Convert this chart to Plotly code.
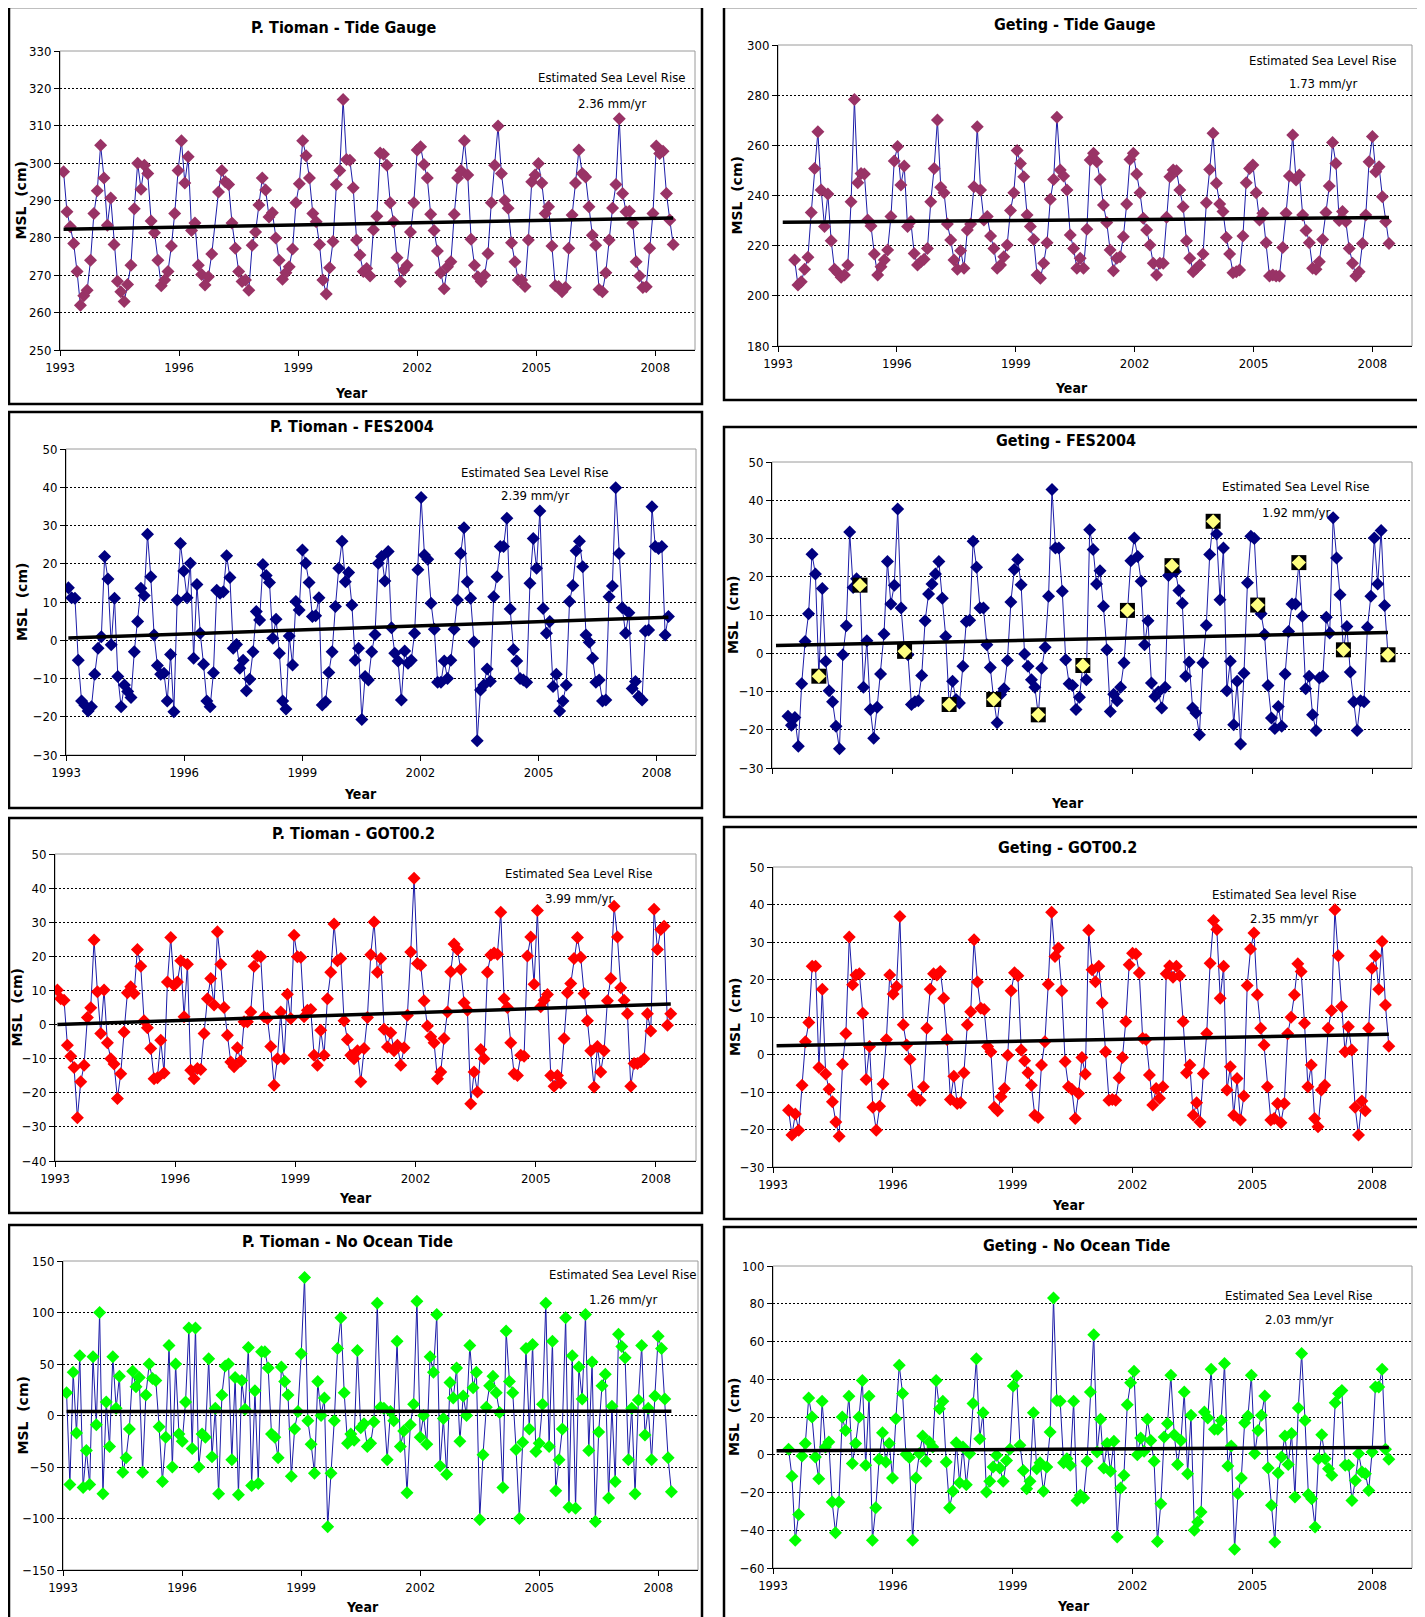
import plotly.graph_objects as go
import numpy as np

W, H = 1425, 1617
PAGE_OFFSET = 8  # default body margin of the html page
FONT = "Liberation Sans Narrow, Arial Narrow, DejaVu Sans Condensed, sans-serif"

# ---------------- data ----------------
years_ticks = [1993, 1996, 1999, 2002, 2005, 2008]

pt_tide = [297.7, 287, 283, 278.5, 271, 262, 264.5, 266, 274, 286.5, 292.6, 304.8, 296, 283.4, 290.7, 278.2,
           268.4, 265.6, 263, 267.5, 272.7, 287.8, 300, 293, 299.4, 297.2, 284.5, 281.4, 274, 267.2, 268.7, 271,
           277.8, 286.5, 298, 306, 294.7, 301.7, 282, 284, 272.7, 270.2, 267.4, 269.6, 275.7, None, 292.3, 298,
           295, 294.3, 284, 277.2, 271, 268.3, 268.7, 266, 278, 281.6, 288.8, 296, 292.8, 285.6, 286.7, 280, 274,
           268.9, 270.7, 272.3, 277, 289.4, 294.5, 306, 302, 296, 286.5, 284.3, 278.2, 268.7, 265, 272, 279,
           294.3, 298, 317, 301, 300.8, 293.4, 279.4, 275.4, 271, 271.8, 269.8, 282.2, 285.8, 302.7, 302.4, 299.4,
           289.4, 284.3, 274.7, 268.3, 271.4, 272.7, 281.6, 289.4, 303.5, 304.4, 299.6, 296, 286.3, 282, 276.5,
           270.7, 266.4, 272.3, 273.6, 286.3, 296, 298, 306, 296.8, 279.6, 272.7, 269.6, 268.3, 270, 275.8, 289.4,
           299.4, 309.9, 297.2, 290, 287.9, 278.7, 273.6, 268.7, 268.7, 267, 279.4, 295, 296.8, 299.9, 294.7,
           286.5, 288.3, 277.8, 267.2, 267, 265.6, 266.7, 277.2, 286.1, 294.7, 303.5, 297.2, 296.3, 288.3, 280.7,
           278, 266.2, 265.6, 270.7, 279.4, 288, 294.3, 311.9, 291.9, 287, 287.1, 283.9, 273.6, 269.8, 266.7,
           266.9, 277.2, 286.5, 304.6, 302.6, 303.2, 291.9, 284.8, 278.2]

pt_fes = [13.7, 11.1, 11, -5.2, -15.9, -17, -18.5, -17.4, -8.9, -2.1, 0.9, 21.9, 16, -1.2, 11, -9.5, -17.4, -11.7,
          -13.4, -15, -3, 4.9, 13.6, 11.7, 27.7, 16.6, 1.4, -6.6, -8.9, -8.6, -15.9, -3.7, -18.7, 10.5, 25.3, 18.1,
          11.1, 20.1, -4.7, 14.6, 1.8, -6.3, -15.9, -17.4, -8.5, 13.1, 12.3, 12.7, 22.1, 16.4, -2.1, -1.1, -7.3,
          -5.2, -13.2, -10.2, -3, 7.5, 5.3, 19.8, 16.9, 15.1, 0.5, 5.5, -3.4, -15.9, -18, 1.1, -6.5, 10.1, 7.9,
          23.6, 20.1, 15.1, 6.2, 6.4, 11.1, -16.9, -16.1, -8.4, -3, 8.8, 18.8, 25.9, 15.3, 17.7, 9.2, -5.2, -2.1,
          -20.7, -9.5, -10.4, -3, 1.5, 20.1, 21.9, 15.5, 23.2, 3.3, -3.4, -5.4, -15.6, -2.8, -6, -5.2, 1.8, 18.4,
          37.3, 22.3, 21.2, 9.7, 2.9, -11, -11, -5.4, -10, -5.2, 2.9, 10.5, 22.7, 29.4, 15.3, 11, -0.4, -26.3,
          -13, -11.7, -7.5, -10.7, 11.4, 16.6, 24.5, 24.5, 31.9, 8.2, -2.4, -5.4, -10, -10.4, -11, 14.9, 26.6,
          18.8, 33.8, 8.3, 1.8, 4.9, -12.1, -8.9, -18.5, -15.9, -11.7, 10.1, 14.3, 23.4, 25.9, 19.2, 1.4, -0.5,
          -4.7, -11, -10.4, -15.9, -15.6, 11.4, 14.2, 39.9, 22.7, 8.5, 1.8, 7.2, -12.6, -10.8, -14.7, -15.6, 2.4,
          2.7, 34.9, 24.5, 24, 24.5, 1.4, 6.2]

pt_got = [10.1, 7.6, 7.1, -6.1, -9.3, -12.6, -27.3, -16.8, -11.9, 2.1, 4.9, 24.8, 9.6, -2.6, 10.1, -5.3, -10, -11.6,
          -21.7, -14.4, -2.2, 9.3, 11.1, 9.1, 22, 17.1, 1.1, -0.9, -7, -15.9, -15.6, -4.6, -14.2, 12.5, 25.5, 11.5,
          12.5, 18.7, 2.3, 17.7, -13.4, -15.9, -12.9, -13.2, -2.6, 7.6, 13.5, 5.7, 27.2, 17.7, 5, -3.1, -11, -12.4,
          -6.8, -10.7, 0.8, 0.8, 3.7, 17.1, 20.1, 19.9, 2.3, 1.8, -6.4, -17.8, -10, 3.7, -10, 8.9, 1.8, 26.2, 19.9,
          19.7, 2.3, 4.2, 4.4, -9, -11.9, -1.7, -9, 7.6, 15.3, 29.5, 18.7, 19.4, 1.1, -4.4, -9, -10, -7.7, -16.8,
          -7, 2.1, 20.5, 30.1, 15.3, 19.4, -1.4, -6.6, -2.4, -7.7, -6.1, -11.9, -6.8, 2.7, 21.3, 42.9, 17.9, 17.4,
          7, -0.4, -3.6, -5.3, -15.9, -13.9, -4.1, 3.7, 15.5, 23.6, 22, 16.2, 6.4, 4.2, -23.2, -13.9, -19.8, -7.3,
          -10, 15.3, 20.4, 21, 20.6, 32.9, 7.6, 5, -5.3, -14.4, -14.9, -9, -9.3, 20.1, 25.7, 11.8, 33.4, 5.2, 7.1,
          8.8, -14.9, -18.1, -14.9, -17.1, -4.1, 9.3, 12, 19.4, 25.5, 19.7, 9.1, 1.1, -7.7, -18.3, -6.4, -13.9,
          -7.7, 7, 13.5, 34.7, 25.7, 10.8, 7.1, 3.2, -18.1, -11.4, -11.4, -10.9, -10, 3.2, -1.9, 33.8, 22, 27.9,
          28.8, -0.2, 3.2]

pt_not = [22, -67, 42, -17, 58, -70, -34, -67, 57, -9, 100, -76, 13, -30, 57, 7, 38, -55, -41, -13, 43, 28, 37,
          -55, 20, 50, 36, 34, -11, -64, -21, 68, -50, 50, -18, -25, 13, 85, -32, 85, -50, -18, -21, 55, -40, 7,
          -76, 20, 48, 50, -43, 37, -77, 34, 6, 66, -68, 24, -66, 62, 62, 46, -18, -21, -41, 47, 33, 20, -59, -13,
          4, 60, 134, -5, -28, -56, 33, 0, 17, -108, -56, -5, 65, 95, 22, -27, -18, -24, 63, -12, -8, -30, -27, -6,
          109, 8, 7, -43, 4, -5, 72, -30, -15, -75, -9, 11, 111, -21, 0, -28, 57, 42, 98, -49, -3, -57, 32, 17, 46,
          -25, 19, 0, 68, 27, 42, -101, -38, 8, 29, 38, 22, 3, -70, 82, 33, 22, -33, -100, -26, 65, -13, 69, -35,
          -27, 11, 109, -30, 72, -73, -43, -13, 95, -89, 58, -90, 47, 16, 98, -34, 52, -103, -16, 29, 40, -80, 9,
          -64, 79, 67, 56, -43, 7, -76, 15, 68, -19, 7, -43, 19, 77, 65, 16, -41, -74]

ge_tide = [214.3, 204.3, 205.6, 210.6, 215.4, 233.2, 250.8, 265.4, 242.2, 227.6, 240.6, 222, 210.6, 209.2, 207.4,
           208.3, 212.3, 237.5, 278.3, 245.1, 248.8, 248.6, 230.2, 227.8, 216.7, 208.3, 211.6, 214.3, 218.3, 231.6,
           253.8, 259.5, 244.2, 251.8, 227.6, 229.6, 216.9, 212.3, 213.6, 214.6, 218.9, 237.5, 250.8, 270.1, 243.3,
           241.1, 228.6, 222.3, 214.3, 210.6, 218, 211, 226.2, 228.6, 243.5, 267.4, 242.2, 230.2, 231.6, 223.9,
           218.9, 211, 212.3, 215.6, 220.3, 234, 241.1, 257.9, 252.8, 247.5, 232.2, 227.6, 222.5, 208.3, 207, 213,
           221.2, 238.5, 246.4, 271.2, 250.2, 247.8, 242.2, 224.3, 218.9, 211, 215, 211, 226.5, 254.2, 256.8, 253.5,
           246.4, 236.2, 229.2, 218.3, 210, 215, 215.6, 223.6, 236.6, 254.4, 256.8, 248.6, 241.1, 230.9, 226.2,
           220.3, 213, 208.3, 213, 213, 231.3, 247.5, 250.2, 249.9, 242.2, 235.5, 222, 215, 209.6, 211, 212.3,
           216.7, 237.1, 250.4, 264.8, 244.9, 236.6, 233.6, 223.3, 216.7, 209.2, 209.6, 210.3, 223.9, 245.1, 250.8,
           252.2, 241.1, 230.2, 232.9, 221.2, 207.9, 208.3, 207.9, 207.9, 219.3, 232.9, 247.8, 264.1, 246.2, 248.2,
           232.2, 226, 221.2, 211, 210.6, 213.6, 222.5, 233.2, 243.8, 261.1, 252.8, 230, 233.6, 229.6, 218.9, 213,
           207.9, 209.6, 220.9, 232.2, 253.5, 263.5, 249.5, 251.5, 239.5, 229.6, 220.9]

ge_fes = [-16.5, -18.8, -16.8, -24.3, -8, 3.1, 10.3, 25.9, 20.7, -6, 16.9, -2.1, -9.8, -12.7, -19.1, -25, -0.4, 7.2,
          31.7, 17.2, 19.5, 17.8, -8.9, 3.3, -14.7, -22.2, -14.1, -5.4, 5, 24, 12.9, 17.8, 37.7, 11.8, 0.5, -0.4,
          -13.4, -12.7, -12.4, -5.8, 8.5, 15.5, 18.1, 20.7, 24, 14.4, 4.4, -13.4, -7.3, -12.1, -13, -3.4, 8.3, 8.6,
          29.3, 22.5, 11.8, 11.8, 2.2, -3.7, -12.1, -18.2, -10.8, -9.3, -1.9, 13.4, 21.9, 24.5, 17.9, -0.2, -3.4,
          -6.9, -8.9, -16.1, -3.9, 1.6, 14.9, 42.8, 27.5, 27.5, 16.2, -1.7, -8, -8.4, -14.7, -11.5, -3.2, -6.9,
          32.3, 27.1, 18.1, 21.6, 12.3, 0.9, -15.2, -10.7, -12.4, -8.9, -2.5, 11.2, 24.2, 30.1, 25.3, 18.8, 2.2,
          8.5, -7.8, -11.3, -10.1, -14.3, -8.9, 20.3, 22.9, 21.4, 16.4, 13.1, -6, -2.3, -14.3, -15.6, -21.3, -2.5,
          7.3, 25.8, 34.5, 31.2, 14, 27.5, -9.8, -2.1, -18.7, -7.3, -23.7, -5.2, 18.4, 30.6, 30, 12.6, 10.3, 4.9,
          -8.4, -16.9, -19.7, -13.9, -19.1, -5.4, 5.7, 12.9, 12.9, 23.7, 9.7, -9.3, -6, -16.1, -20.2, -6.5, -6,
          9.4, 5.3, 35.4, 24.9, 15.3, 0.9, 7, -4.9, -12.7, -20.2, -12.4, -12.7, 6.8, 14.9, 30.1, 18.1, 32.1, 12.5,
          -0.4]
ge_fes_flagged = [9, 21, 34, 47, 60, 73, 86, 99, 112, 124, 137, 149, 162, 175]

ge_got = [-14.9, -21.5, -15.9, -20.2, -8.2, 3.4, 8.5, 23.5, 23.5, -3.5, 17.4, -5.2, -9.3, -12.6, -18, -21.8, -2.6,
          5.6, 31.3, 18.6, 21.2, 21.5, 11, -6.7, 2.1, -14.1, -20.2, -13.8, -7.9, 4, 21.2, 16.1, 18.1, 36.8, 7.9,
          2.5, -1.3, -10.8, -12.2, -12.2, -8.6, 7, 17.4, 21.5, 21.2, 22.1, 15, 4, -12, -5.8, -13.1, -12.9, -4.9,
          7.9, 11.4, 30.6, 19.3, 12.3, 12, 2.1, 0.7, -14.1, -15, -11.3, -9.1, -0.2, 17, 21.8, 21, 1.2, -1.7, -4.9,
          -8.2, -16.2, -16.8, -2.8, 3.4, 18.7, 37.9, 26.1, 28.4, 17, -1.9, -8.6, -9.3, -17.1, -10.4, -0.8, -5.2,
          33.1, 22.6, 19.4, 23.5, 13.7, 0.7, -12.2, -12, -12.2, -6.2, -0.8, 8.8, 23.9, 27, 26.8, 21.7, 4.3, 4,
          -5.5, -13.5, -9.1, -11.7, -8.6, 21.5, 23.6, 20.6, 23.5, 21, 8.8, -4.9, -2.8, -16.2, -12.9, -18, -5.1,
          5.6, 24.3, 35.7, 33.3, 15, 23.5, -9.5, -3.3, -16.2, -6.4, -17.5, -11.1, 18.4, 28.1, 32.4, 15.9, 7, 2.5,
          -8.6, -17.5, -17.1, -13.1, -18.2, -13.1, 5.5, 9.9, 15.9, 24.2, 22.1, 8.3, -8.6, -2.8, -17.1, -19.3,
          -9.5, -8.2, 7, 11.7, 38.6, 26.3, 12.8, 0.7, 7.4, 1.2, -14.1, -21.5, -12.4, -15, 7, 23, 26.3, 17.4, 30.1,
          13.2, 2.2]

ge_not = [2.9, -11.4, -45.3, -31.7, -0.6, 5.9, 30.1, 20, -1.2, -12.7, 28.3, 4.1, 6.8, -25, -41.3, -25, 20, 12.9, 31,
          -4.7, 5.9, 20, 39.4, -5.6, 31, -45.3, -28.1, -2.4, 11.7, -3.8, 5.9, -12.3, 19.1, 47.4, 32.4, 0.2, -1.5,
          -45.3, -12.3, 0.6, 9.9, -3.5, 6.8, 4.1, 39.4, 24.4, 28.3, -3.8, -28.1, -19.4, 6.4, -14.8, 4.1, -15.9, 0.6,
          27.1, 50.9, 8.5, 22.3, -19.7, -14.1, -6.5, -0.3, -7, -14.1, -3, 2.9, 36.4, 41.7, 5, -8.3, -18, -14.1,
          22.3, -7.4, -4.2, -19.4, -6.5, 12.1, 83, 28.8, 28.3, -4.2, -2.1, -5.6, 28.3, -24.2, -21.5, -22.9, -3.5,
          33.2, 63.6, 1.5, 18.8, -7, 5.9, -8.8, 7.1, -43.6, -17.6, -10.9, 26.5, 38.2, 44.2, 0, 8.9, 1.8, 18.8, 7.6,
          -3.5, -45.9, -25.9, 9.4, 16.5, 42.1, 10.6, -5.1, 7.6, 33.2, -10, 20.9, -40, -35.6, -30.3, 22.6, 19.5,
          45.3, 13.5, 13.5, 18.2, 48.3, -6, 4.6, -50.1, -20.6, -12.3, 17, 20.5, 42.1, 0.6, 12.9, 20.9, 31.1, -7,
          -26.8, -46.2, -9.7, -1.2, 9.9, -5.2, 11.2, -22.4, 24.8, 53.6, 18.2, -21.1, -23.3, -38.3, -2.1, 10.6,
          -2.1, -7.4, -10.9, 27.6, 32.4, 34.1, -5.6, -5.6, -24.2, -13.6, 0.6, -9.1, -10, -18.9, 1.5, 35.9, 35.9,
          45.3, 2.9, -2.4]

# series time span (first / last observation, decimal years)
starts = [1993.09, 1993.42, 1993.06, 1993.40, 1993.06, 1993.39, 1993.09, 1993.39]
ends = [2008.45, 2008.42, 2008.30, 2008.40, 2008.37, 2008.42, 2008.33, 2008.42]
trend_start = [282.3, 229.3, 0.6, 2.0, 0.0, 2.3, 3.8, 2.1]
trend_end = [285.3, 231.2, 6.0, 5.4, 6.0, 5.4, 4.1, 3.9]
rates = ["2.36 mm/yr", "1.73 mm/yr", "2.39 mm/yr", "1.92 mm/yr", "3.99 mm/yr", "2.35 mm/yr", "1.26 mm/yr",
         "2.03 mm/yr"]
titles = ["P. Tioman - Tide Gauge", "Geting - Tide Gauge", "P. Tioman - FES2004", "Geting - FES2004",
          "P. Tioman - GOT00.2", "Geting - GOT00.2", "P. Tioman - No Ocean Tide", "Geting - No Ocean Tide"]
rise_labels = ["Estimated Sea Level Rise"] * 5 + ["Estimated Sea level Rise"] + ["Estimated Sea Level Rise"] * 2
series = [pt_tide, ge_tide, pt_fes, ge_fes, pt_got, ge_got, pt_not, ge_not]
y_ranges = [(250, 330), (180, 300), (-30, 50), (-30, 50), (-40, 50), (-30, 50), (-150, 150), (-60, 100)]
y_steps = [10, 20, 10, 10, 10, 10, 50, 20]

# ---------------- layout geometry (page pixels) ----------------
geo = [
    dict(plot=(60, 695, 51, 350), box=(9, 702, 7, 404), title=(344, 28), year=(351, 393), ylab=20, ann=(612, 78, 103)),
    dict(plot=(778, 1412, 45, 346), box=(724, 1419, 7, 400), title=(1075, 25), year=(1071, 388), ylab=737, ann=(1323, 60, 83)),
    dict(plot=(66, 696, 449, 755), box=(9, 702, 412, 808), title=(352, 427), year=(360, 794), ylab=22, ann=(535, 472, 496)),
    dict(plot=(772, 1412, 462, 768), box=(724, 1419, 427, 817), title=(1066, 440), year=(1067, 803), ylab=733, ann=(1296, 487, 512)),
    dict(plot=(55, 696, 854, 1161), box=(9, 702, 818, 1213), title=(353, 833), year=(355, 1198), ylab=17, ann=(579, 873, 898)),
    dict(plot=(773, 1412, 867, 1167), box=(724, 1419, 827, 1219), title=(1067, 847), year=(1068, 1205), ylab=735, ann=(1284, 894, 918)),
    dict(plot=(63, 698, 1261, 1570), box=(9, 702, 1225, 1630), title=(347, 1241), year=(362, 1607), ylab=22, ann=(623, 1274, 1299)),
    dict(plot=(773, 1412, 1266, 1568), box=(724, 1419, 1227, 1630), title=(1076, 1245), year=(1073, 1606), ylab=734, ann=(1299, 1295, 1319)),
]
marker_colors = ["#993366", "#993366", "#000080", "#000080", "#FF0000", "#FF0000", "#00FF00", "#00FF00"]
LINE_COLOR = "#1c1ca8"


def px(x):
    return (x - PAGE_OFFSET) / W


def py(y):
    return 1 - (y - PAGE_OFFSET) / H


fig = go.Figure()
layout = dict(width=W, height=H, autosize=False, margin=dict(l=0, r=0, t=0, b=0, pad=0),
              paper_bgcolor="white", plot_bgcolor="white", showlegend=False,
              font=dict(family=FONT, color="black"))
shapes = []
annotations = []

for k in range(8):
    n = k + 1
    xa = "x" if n == 1 else f"x{n}"
    ya = "y" if n == 1 else f"y{n}"
    g = geo[k]
    vals = series[k]
    xs = np.linspace(starts[k], ends[k], len(vals))
    fig.add_trace(go.Scatter(x=xs, y=vals, mode="lines+markers", connectgaps=True,
                             line=dict(color=LINE_COLOR, width=1),
                             marker=dict(symbol="diamond", size=10, color=marker_colors[k]),
                             xaxis=xa, yaxis=ya, hoverinfo="skip"))
    if k == 3:
        fx = [xs[i] for i in ge_fes_flagged if i < len(vals)]
        fy = [vals[i] for i in ge_fes_flagged if i < len(vals)]
        fig.add_trace(go.Scatter(x=fx, y=fy, mode="markers",
                                 marker=dict(symbol="square", size=15, color="black"),
                                 xaxis=xa, yaxis=ya, hoverinfo="skip"))
        fig.add_trace(go.Scatter(x=fx, y=fy, mode="markers",
                                 marker=dict(symbol="diamond", size=11, color="#FFFF80"),
                                 xaxis=xa, yaxis=ya, hoverinfo="skip"))
    tx0 = starts[k] - (0.3 if k % 2 == 1 else 0.0)
    fig.add_trace(go.Scatter(x=[tx0, xs[-1]], y=[trend_start[k], trend_end[k]], mode="lines",
                             line=dict(color="black", width=3.5), xaxis=xa, yaxis=ya, hoverinfo="skip"))

    l, r, t, b = g["plot"]
    xkey = "xaxis" if n == 1 else f"xaxis{n}"
    ykey = "yaxis" if n == 1 else f"yaxis{n}"
    layout[xkey] = dict(domain=[px(l), px(r)], anchor=ya, range=[1993, 2009], tickvals=years_ticks,
                        ticktext=[str(v) for v in years_ticks], showticklabels=(k != 3), automargin=False,
                        ticks="outside", ticklen=5, tickcolor="black", showline=True, linecolor="black",
                        linewidth=1, showgrid=False, zeroline=False,
                        tickfont=dict(family=FONT, size=13, color="black"))
    lo, hi = y_ranges[k]
    layout[ykey] = dict(domain=[py(b), py(t)], anchor=xa, range=[lo, hi], dtick=y_steps[k], tick0=lo,
                        automargin=False,
                        ticks="outside", ticklen=5, tickcolor="black", showline=True, linecolor="black",
                        linewidth=1, showgrid=True, gridcolor="black", griddash="2px,2px", gridwidth=1,
                        zeroline=False, tickfont=dict(family=FONT, size=13, color="black"))
    shapes.append(dict(type="rect", xref=f"{xa} domain", yref=f"{ya} domain", x0=0, x1=1, y0=0, y1=1,
                       line=dict(color="#9a9a9a", width=1), layer="below"))
    bl, br, bt, bb = g["box"]
    shapes.append(dict(type="rect", xref="paper", yref="paper", x0=px(bl), x1=px(br), y0=py(bb), y1=py(bt),
                       line=dict(color="black", width=2.5)))
    annotations.append(dict(text=f"<b>{titles[k]}</b>", x=px(g["title"][0]), y=py(g["title"][1]),
                            xref="paper", yref="paper", showarrow=False, xanchor="center", yanchor="middle",
                            font=dict(family=FONT, size=16, color="black")))
    annotations.append(dict(text="<b>Year</b>", x=px(g["year"][0]), y=py(g["year"][1]), xref="paper",
                            yref="paper", showarrow=False, xanchor="center", yanchor="middle",
                            font=dict(family=FONT, size=14, color="black")))
    annotations.append(dict(text="<b>MSL  (cm)</b>", x=px(g["ylab"]), y=py((t + b) / 2), xref="paper",
                            yref="paper", showarrow=False, textangle=-90, xanchor="center", yanchor="middle",
                            font=dict(family="DejaVu Sans, sans-serif", size=14, color="black")))
    ax, ay1, ay2 = g["ann"]
    annotations.append(dict(text=rise_labels[k], x=px(ax), y=py(ay1), xref="paper", yref="paper",
                            showarrow=False, xanchor="center", yanchor="middle",
                            font=dict(family=FONT, size=13, color="black")))
    annotations.append(dict(text=rates[k], x=px(ax), y=py(ay2), xref="paper", yref="paper",
                            showarrow=False, xanchor="center", yanchor="middle",
                            font=dict(family=FONT, size=13, color="black")))

layout["shapes"] = shapes
layout["annotations"] = annotations
fig.update_layout(**layout)
fig.write_html("out.html")
